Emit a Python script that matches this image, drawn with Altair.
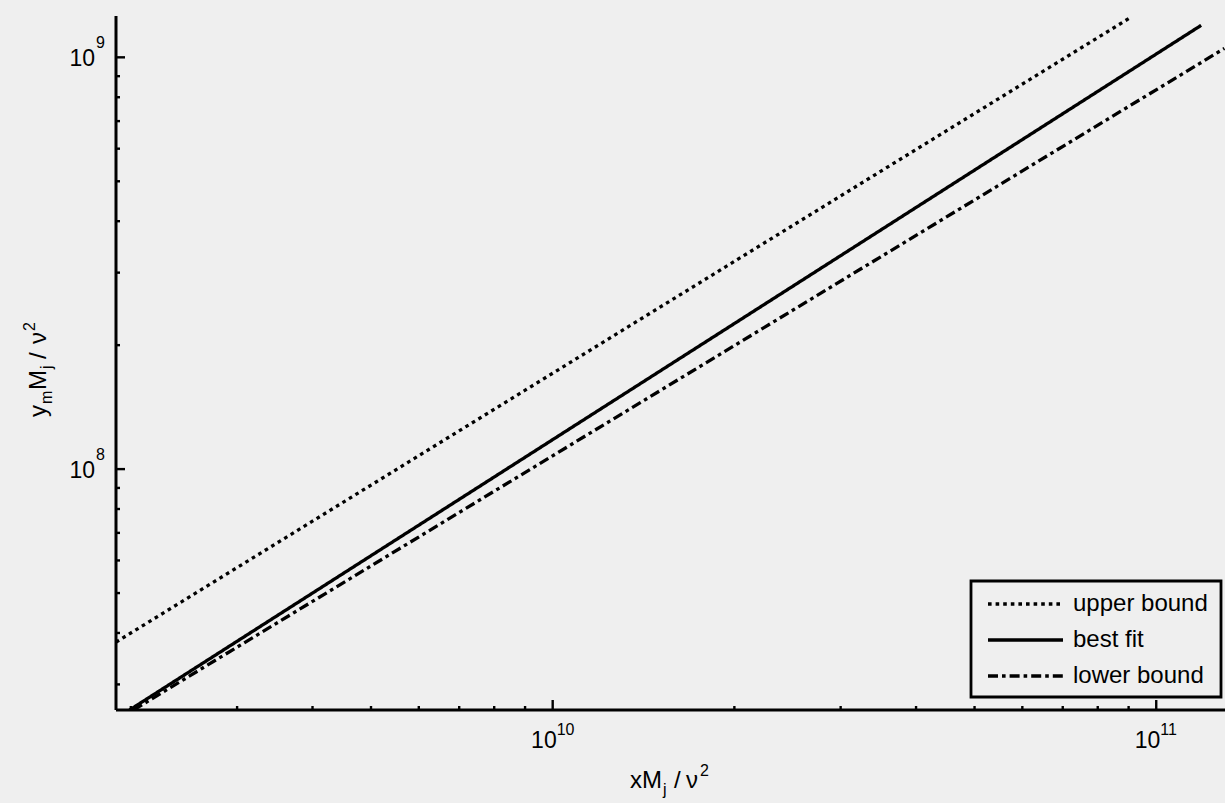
import altair as alt
import pandas as pd

# ---- data ---------------------------------------------------------------
series = ["upper bound", "best fit", "lower bound"]
x_start = [1.89e9, 1.99e9, 2.02e9]
x_end = [9.02e10, 1.187e11, 1.297e11]
y_start = [3.80e7, 2.60e7, 2.60e7]
y_end = [1.244e9, 1.196e9, 1.051e9]

x_major = [1e10, 1e11]
x_major_exp = ["10", "11"]
y_major = [1e8, 1e9]
y_major_exp = ["8", "9"]
x_minor = [2e9, 3e9, 4e9, 5e9, 6e9, 7e9, 8e9, 9e9,
           2e10, 3e10, 4e10, 5e10, 6e10, 7e10, 8e10, 9e10]
y_minor = [3e7, 4e7, 5e7, 6e7, 7e7, 8e7, 9e7,
           2e8, 3e8, 4e8, 5e8, 6e8, 7e8, 8e8, 9e8]

X_DOMAIN = [1.89e9, 1.30e11]
Y_DOMAIN = [2.60e7, 1.26e9]

# ---- layout -------------------------------------------------------------
W, H = 1109, 694
LEFT, TOP = 116, 16
BG = "#efefef"
FONT = "Liberation Sans"

xs = alt.Scale(type="log", domain=X_DOMAIN, nice=False)
ys = alt.Scale(type="log", domain=Y_DOMAIN, nice=False)

lines_df = pd.DataFrame({
    "series": series * 2,
    "x": x_start + x_end,
    "y": y_start + y_end,
    "order": [0] * 3 + [1] * 3,
})
dash_range = [[3.6, 4], [1, 0], [10, 4, 3.6, 4]]

curves = alt.Chart(lines_df).mark_line(
    color="black", strokeWidth=3.3, clip=True, strokeCap="butt"
).encode(
    x=alt.X("x:Q", scale=xs, axis=None),
    y=alt.Y("y:Q", scale=ys, axis=None),
    detail="series:N",
    order="order:Q",
    strokeDash=alt.StrokeDash("series:N",
                              scale=alt.Scale(domain=series, range=dash_range),
                              legend=None),
)

one = pd.DataFrame({"k": [0]})

# axis lines
y_axis_line = alt.Chart(one).mark_rule(color="black", strokeWidth=3).encode(
    x=alt.value(0), y=alt.value(0), y2=alt.value(H))
x_axis_line = alt.Chart(one).mark_rule(color="black", strokeWidth=3).encode(
    x=alt.value(0), x2=alt.value(W), y=alt.value(H))

# ticks (pointing inward)
ymaj = pd.DataFrame({"v": y_major, "e": y_major_exp})
ymin = pd.DataFrame({"v": y_minor})
xmaj = pd.DataFrame({"v": x_major, "e": x_major_exp})
xmin = pd.DataFrame({"v": x_minor})

y_major_ticks = alt.Chart(ymaj).mark_rule(color="black", strokeWidth=2.4).encode(
    y=alt.Y("v:Q", scale=ys, axis=None), x=alt.value(0), x2=alt.value(9))
y_minor_ticks = alt.Chart(ymin).mark_rule(color="black", strokeWidth=2.4).encode(
    y=alt.Y("v:Q", scale=ys, axis=None), x=alt.value(0), x2=alt.value(4))
x_major_ticks = alt.Chart(xmaj).mark_rule(color="black", strokeWidth=2.4).encode(
    x=alt.X("v:Q", scale=xs, axis=None), y=alt.value(H), y2=alt.value(H - 10))
x_minor_ticks = alt.Chart(xmin).mark_rule(color="black", strokeWidth=2.4).encode(
    x=alt.X("v:Q", scale=xs, axis=None), y=alt.value(H), y2=alt.value(H - 4))

# tick labels: "10" with a raised exponent
y_lab_base = alt.Chart(ymaj).mark_text(
    text="10", font=FONT, fontSize=23, align="right", baseline="alphabetic", dy=9
).encode(y=alt.Y("v:Q", scale=ys, axis=None), x=alt.value(-21))
y_lab_exp = alt.Chart(ymaj).mark_text(
    font=FONT, fontSize=16, align="left", baseline="alphabetic", dy=-9
).encode(y=alt.Y("v:Q", scale=ys, axis=None), x=alt.value(-20), text="e:N")

x_lab_base = alt.Chart(xmaj).mark_text(
    text="10", font=FONT, fontSize=23, align="right", baseline="alphabetic", dx=4
).encode(x=alt.X("v:Q", scale=xs, axis=None), y=alt.value(H + 38))
x_lab_exp = alt.Chart(xmaj).mark_text(
    font=FONT, fontSize=16, align="left", baseline="alphabetic", dx=4
).encode(x=alt.X("v:Q", scale=xs, axis=None), y=alt.value(H + 25), text="e:N")


def piece(text, x, y, size, angle=0):
    return alt.Chart(one).mark_text(
        text=text, font=FONT, fontSize=size, align="left",
        baseline="alphabetic", angle=angle, color="black"
    ).encode(x=alt.value(x - LEFT), y=alt.value(y - TOP))


# x title: xM_j / ν^2
x_title = [
    piece("xM", 630, 788, 24),
    piece("j", 663, 795, 16),
    piece("/", 674, 788, 24),
    piece("ν", 686, 788, 24),
    piece("2", 700, 776, 16),
]
# y title: y_m M_j / ν^2 (reading upward)
y_title = [
    piece("y", 46, 417, 24, 270),
    piece("m", 52, 404, 16, 270),
    piece("M", 46, 390, 24, 270),
    piece("j", 52, 369, 16, 270),
    piece("/", 46, 359, 24, 270),
    piece("ν", 46, 344, 24, 270),
    piece("2", 35, 331, 16, 270),
]

# legend
LX0, LX1, LY0, LY1 = 971, 1221, 581, 697
legend_box = alt.Chart(one).mark_rect(
    fill=BG, stroke="black", strokeWidth=2.8
).encode(x=alt.value(LX0 - LEFT), x2=alt.value(LX1 - LEFT),
         y=alt.value(LY0 - TOP), y2=alt.value(LY1 - TOP))

legend_rows = [604, 640, 676]
legend_layers = []
for name, dash, ry in zip(series, dash_range, legend_rows):
    legend_layers.append(
        alt.Chart(one).mark_rule(color="black", strokeWidth=3.3,
                                 strokeDash=dash, strokeCap="butt").encode(
            x=alt.value(988 - LEFT), x2=alt.value(1063 - LEFT),
            y=alt.value(ry - TOP))
    )
    legend_layers.append(
        alt.Chart(one).mark_text(text=name, font=FONT, fontSize=24,
                                 align="left", baseline="middle",
                                 color="black").encode(
            x=alt.value(1073 - LEFT), y=alt.value(ry - TOP))
    )

chart = alt.layer(
    curves,
    y_minor_ticks, y_major_ticks, x_minor_ticks, x_major_ticks,
    y_axis_line, x_axis_line,
    y_lab_base, y_lab_exp, x_lab_base, x_lab_exp,
    *x_title, *y_title,
    legend_box, *legend_layers,
).properties(
    width=W, height=H,
    autosize="none",
    padding={"left": LEFT, "top": TOP, "right": 0, "bottom": 803 - TOP - H},
    background=BG,
).configure_view(stroke=None)

chart.save("out.html", embed_options={"renderer": "svg", "actions": False})
